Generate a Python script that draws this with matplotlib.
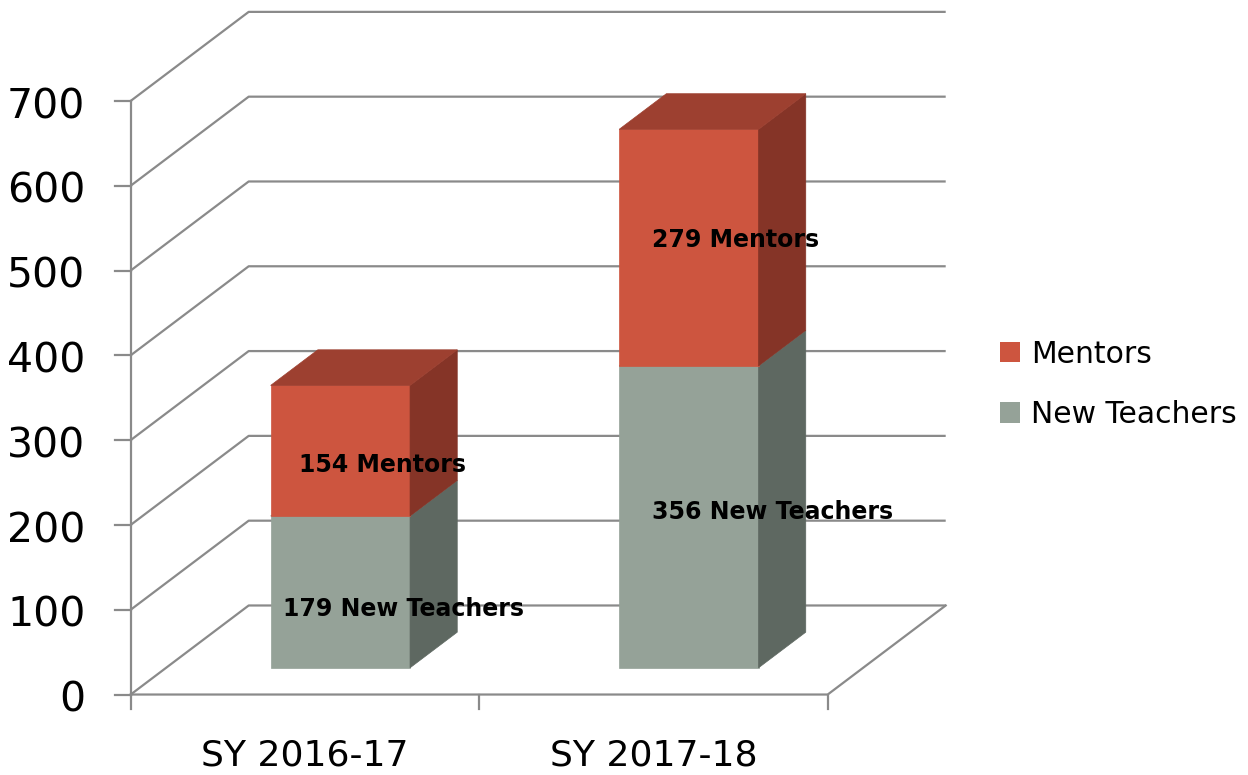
import numpy as np
import matplotlib
matplotlib.use('Agg')
import matplotlib.pyplot as plt
from matplotlib.patches import Polygon, Patch

years = ['SY 2016-17', 'SY 2017-18']
new_teachers = [179, 356]
mentors = [154, 279]
y_ticks = [0, 100, 200, 300, 400, 500, 600, 700]

# label offsets (x in category units, y in value units) from segment centre
lab_dx = {'m': [0.122, 0.134], 'nt': [0.182, 0.239]}
lab_dy = {'m': [-13.7, 11.8], 'nt': [-17.7, 8.3]}

c_m = ['#CD553F', '#853427', '#9D4030']
c_nt = ['#95A298', '#5E6861', '#7A857D']
grid_c = '#8A8A8A'

plt.rcParams['font.family'] = ['DejaVu Sans']

fig = plt.figure(figsize=(12.48, 7.75), dpi=100)
ax = fig.add_axes([0, 0, 1, 1])
ax.set_xlim(-0.375, 3.206)
ax.set_ylim(-94.9, 819.0)
ax.axis('off')

dx, dy = 0.3386, 105.0      # depth of the box
bw = 0.4                    # bar width
d0, d1 = 0.3, 0.7           # bar position in depth
ymax = y_ticks[-1]
n = len(years)

# side wall and back wall gridlines
for v in y_ticks:
    ax.plot([0, dx, n + dx], [v, v + dy, v + dy], color=grid_c, lw=1.6, zorder=1, solid_capstyle='butt')
# floor
ax.plot([0, n, n + dx], [0, 0, dy], color=grid_c, lw=1.6, zorder=1)
# front y axis and ticks
ax.plot([0, 0], [0, ymax], color=grid_c, lw=1.6, zorder=1)
for v in y_ticks:
    ax.plot([-0.045, 0], [v, v], color=grid_c, lw=1.6, zorder=1)
    ax.text(-0.13, v - 2, str(v), ha='right', va='center_baseline', fontsize=29.5, color='black')
for i in range(n + 1):
    ax.plot([i, i], [0, -17], color=grid_c, lw=1.6, zorder=1)
for i, yr in enumerate(years):
    ax.text(i + 0.5, -68.0, yr, ha='center', va='center_baseline', fontsize=26, color='black')


def box(xl, b, t, cols, z):
    ddx, ddy = (d1 - d0) * dx, (d1 - d0) * dy
    front = [(xl, b), (xl + bw, b), (xl + bw, t), (xl, t)]
    side = [(xl + bw, b), (xl + bw + ddx, b + ddy), (xl + bw + ddx, t + ddy), (xl + bw, t)]
    top = [(xl, t), (xl + bw, t), (xl + bw + ddx, t + ddy), (xl + ddx, t + ddy)]
    for pts, c in zip([front, side, top], cols):
        ax.add_patch(Polygon(pts, closed=True, facecolor=c, edgecolor=c, lw=0.5, zorder=z))


for i in range(n):
    xl = i + 0.5 - bw / 2 + d0 * dx
    base = d0 * dy
    box(xl, base, base + new_teachers[i], c_nt, 3)
    box(xl, base + new_teachers[i], base + new_teachers[i] + mentors[i], c_m, 4)
    xc = xl + bw / 2
    ax.text(xc + lab_dx['nt'][i], base + new_teachers[i] / 2 + lab_dy['nt'][i],
            f'{new_teachers[i]} New Teachers', ha='center', va='center_baseline',
            fontsize=17, fontweight='bold', color='black', zorder=6)
    ax.text(xc + lab_dx['m'][i], base + new_teachers[i] + mentors[i] / 2 + lab_dy['m'][i],
            f'{mentors[i]} Mentors', ha='center', va='center_baseline',
            fontsize=17, fontweight='bold', color='black', zorder=6)

handles = [Patch(facecolor=c_m[0], edgecolor='none', label='Mentors'),
           Patch(facecolor=c_nt[0], edgecolor='none', label='New Teachers')]
ax.legend(handles=handles, loc='center left', bbox_to_anchor=(1000 / 1248, 0.504),
          bbox_transform=fig.transFigure, frameon=False, fontsize=21.5,
          handlelength=0.67, handleheight=0.67, handletextpad=0.38,
          labelspacing=1.05, borderpad=0, borderaxespad=0)

fig.savefig('out.png', dpi=100)
